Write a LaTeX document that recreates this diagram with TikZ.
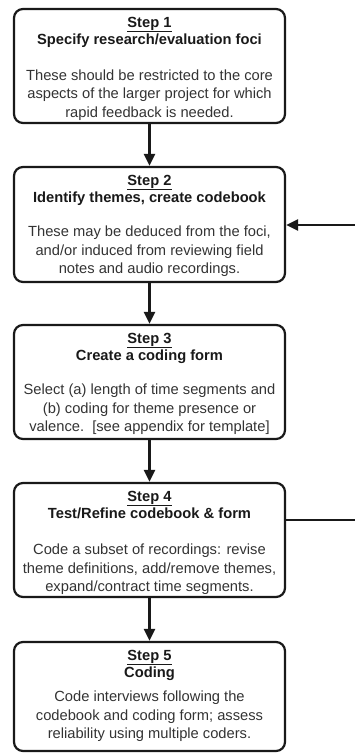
\documentclass[tikz,border=0pt]{standalone}
\usepackage{fontspec}
\setmainfont{Liberation Sans}
\usetikzlibrary{arrows.meta}
\tikzset{
  boxstyle/.style={draw=black!90, line width=2.2pt, rounded corners=9pt, inner sep=0pt},
  steptxt/.style={font=\fontsize{14.7}{17}\selectfont\bfseries, text=black!90, anchor=base, inner sep=0pt},
  bodytxt/.style={font=\fontsize{14.7}{18}\selectfont, text=black!80, anchor=base, inner sep=0pt},
  flowarrow/.style={draw=black!90, line width=2.4pt, -{Triangle[width=11pt,length=12pt]}},
  feedline/.style={draw=black!90, line width=2pt},
}
\newcommand\flowbox[9]{%
  \pgfmathsetmacro\boxh{#3-#2}%
  \pgfmathsetmacro\boxc{(#3+#2)/2}%
  \node[boxstyle, minimum width=271pt, minimum height=\boxh pt] (#1) at (149.5,\boxc) {};
  \node[steptxt] (#1s) at (149.5,#2+18) {\underline{#4}};
  \node[steptxt] (#1t) at (149.5,#2+35.5) {#5};
  \node[bodytxt] (#1a) at (149.5,#6) {#7};
  \node[bodytxt] (#1b) at (149.5,#6+18.5) {#8};
  \node[bodytxt] (#1c) at (149.5,#6+37) {#9};
}
\begin{document}
\begin{tikzpicture}[x=1pt, y=-1pt]
  \useasboundingbox (0,0) rectangle (354,753);
  \flowbox{b1}{9}{123}{Step 1}{Specify research/evaluation foci}{80}{These should be restricted to the core}{aspects of the larger project for which}{rapid feedback is needed.}
  \flowbox{b2}{167}{282}{Step 2}{Identify themes, create codebook}{236.5}{These may be deduced from the foci,}{and/or induced from reviewing field}{notes and audio recordings.}
  \flowbox{b3}{325}{439}{Step 3}{Create a coding form}{394.5}{Select (a) length of time segments and}{(b) coding for theme presence or}{valence.\ \ [see appendix for template]}
  \flowbox{b4}{483}{597}{Step 4}{Test/Refine codebook \& form}{554.5}{Code a subset of recordings: revise}{theme definitions, add/remove themes,}{expand/contract time segments.}
  \flowbox{b5}{642}{751}{Step 5}{Coding}{701.5}{Code interviews following the}{codebook and coding form; assess}{reliability using multiple coders.}
  \draw[flowarrow] (b1) -- (b2);
  \draw[flowarrow] (b2) -- (b3);
  \draw[flowarrow] (b3) -- (b4);
  \draw[flowarrow] (b4) -- (b5);
  \coordinate (r4) at (356,520);
  \coordinate (r2) at (356,225);
  \draw[feedline] (b4.east |- r4) -- (r4);
  \draw[flowarrow] (r2) -- (r2 -| b2.east);
\end{tikzpicture}
\end{document}
